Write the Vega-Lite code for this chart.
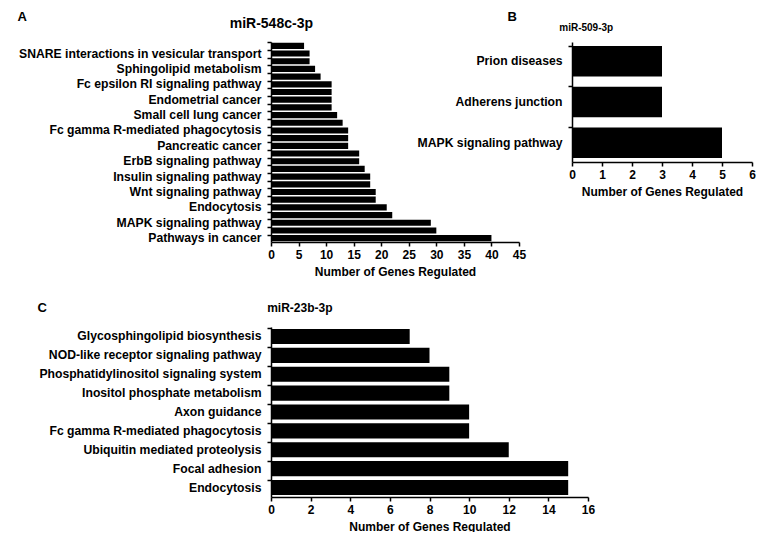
{
  "$schema": "https://vega.github.io/schema/vega-lite/v6.json",
  "background": "white",
  "padding": {"left": 17, "top": 10, "right": 0, "bottom": 0},
  "config": {
    "view": {"stroke": null},
    "font": "Liberation Sans",
    "axis": {
      "domainColor": "black", "domainWidth": 1.5, "tickColor": "black", "tickWidth": 1.5, "tickSize": 4,
      "labelFont": "Liberation Sans", "labelFontSize": 12, "labelFontWeight": "bold", "labelColor": "black",
      "titleFont": "Liberation Sans", "titleFontSize": 12, "titleFontWeight": "bold", "titleColor": "black",
      "grid": false, "labelPadding": 3, "labelFlush": false, "labelOverlap": false, "labelLimit": 400
    },
    "axisY": {"labelPadding": 6, "labelFontSize": 12.2, "bandPosition": 0, "titleAngle": 0, "titleAlign": "left", "titleBaseline": "middle", "titleFontSize": 13},
    "axisX": {"titlePadding": 6},
    "title": {"font": "Liberation Sans", "fontWeight": "bold", "color": "black", "frame": "bounds", "anchor": "middle"},
    "bar": {"color": "black"}
  },
  "datasets": {
    "A": [
      {"pathway": "Unlabeled pathway 1", "genes": 6},
      {"pathway": "SNARE interactions in vesicular transport", "genes": 7},
      {"pathway": "Unlabeled pathway 2", "genes": 7},
      {"pathway": "Sphingolipid metabolism", "genes": 8},
      {"pathway": "Unlabeled pathway 3", "genes": 9},
      {"pathway": "Fc epsilon RI signaling pathway", "genes": 11},
      {"pathway": "Unlabeled pathway 4", "genes": 11},
      {"pathway": "Endometrial cancer", "genes": 11},
      {"pathway": "Unlabeled pathway 5", "genes": 11},
      {"pathway": "Small cell lung cancer", "genes": 12},
      {"pathway": "Unlabeled pathway 6", "genes": 13},
      {"pathway": "Fc gamma R-mediated phagocytosis", "genes": 14},
      {"pathway": "Unlabeled pathway 7", "genes": 14},
      {"pathway": "Pancreatic cancer", "genes": 14},
      {"pathway": "Unlabeled pathway 8", "genes": 16},
      {"pathway": "ErbB signaling pathway", "genes": 16},
      {"pathway": "Unlabeled pathway 9", "genes": 17},
      {"pathway": "Insulin signaling pathway", "genes": 18},
      {"pathway": "Unlabeled pathway 10", "genes": 18},
      {"pathway": "Wnt signaling pathway", "genes": 19},
      {"pathway": "Unlabeled pathway 11", "genes": 19},
      {"pathway": "Endocytosis", "genes": 21},
      {"pathway": "Unlabeled pathway 12", "genes": 22},
      {"pathway": "MAPK signaling pathway", "genes": 29},
      {"pathway": "Unlabeled pathway 13", "genes": 30},
      {"pathway": "Pathways in cancer", "genes": 40}
    ],
    "B": [
      {"pathway": "Prion diseases", "genes": 3},
      {"pathway": "Adherens junction", "genes": 3},
      {"pathway": "MAPK signaling pathway", "genes": 5}
    ],
    "C": [
      {"pathway": "Glycosphingolipid biosynthesis", "genes": 7},
      {"pathway": "NOD-like receptor signaling pathway", "genes": 8},
      {"pathway": "Phosphatidylinositol signaling system", "genes": 9},
      {"pathway": "Inositol phosphate metabolism", "genes": 9},
      {"pathway": "Axon guidance", "genes": 10},
      {"pathway": "Fc gamma R-mediated phagocytosis", "genes": 10},
      {"pathway": "Ubiquitin mediated proteolysis", "genes": 12},
      {"pathway": "Focal adhesion", "genes": 15},
      {"pathway": "Endocytosis", "genes": 15}
    ]
  },
  "columns": 1,
  "align": "none",
  "spacing": 24,
  "concat": [
    {
      "bounds": "flush",
      "spacing": 53,
      "hconcat": [
        {
          "data": {"name": "A"},
          "width": 248,
          "height": 200,
          "title": {"text": "miR-548c-3p", "fontSize": 14, "offset": -21},
          "mark": {"type": "bar"},
          "encoding": {
            "y": {
              "field": "pathway", "type": "nominal", "sort": null,
              "scale": {"paddingInner": 0.2, "paddingOuter": 0.1},
              "axis": {
                "title": "A", "titleX": -254, "titleY": -26,
                "labelExpr": "indexof(datum.value, 'Unlabeled') === 0 ? '' : datum.value"
              }
            },
            "x": {
              "field": "genes", "type": "quantitative",
              "scale": {"domain": [0, 45], "nice": false},
              "axis": {"values": [0, 5, 10, 15, 20, 25, 30, 35, 40, 45], "title": "Number of Genes Regulated"}
            }
          }
        },
        {
          "data": {"name": "B"},
          "width": 180,
          "height": 120,
          "title": {"text": "miR-509-3p", "fontSize": 10, "offset": -23},
          "mark": {"type": "bar"},
          "encoding": {
            "y": {
              "field": "pathway", "type": "nominal", "sort": null,
              "scale": {"paddingInner": 0.25, "paddingOuter": 0.1},
              "axis": {"title": "B", "titleX": -65, "titleY": -26}
            },
            "x": {
              "field": "genes", "type": "quantitative",
              "scale": {"domain": [0, 6], "nice": false},
              "axis": {"values": [0, 1, 2, 3, 4, 5, 6], "title": "Number of Genes Regulated"}
            }
          }
        }
      ]
    },
    {
      "data": {"name": "C"},
      "width": 317,
      "height": 170,
      "title": {"text": "miR-23b-3p", "fontSize": 12, "offset": -14, "dx": -16},
      "mark": {"type": "bar"},
      "encoding": {
        "y": {
          "field": "pathway", "type": "nominal", "sort": null,
          "scale": {"paddingInner": 0.2, "paddingOuter": 0.1},
          "axis": {"title": "C", "titleX": -234, "titleY": -20}
        },
        "x": {
          "field": "genes", "type": "quantitative",
          "scale": {"domain": [0, 16], "nice": false},
          "axis": {"values": [0, 2, 4, 6, 8, 10, 12, 14, 16], "title": "Number of Genes Regulated"}
        }
      }
    }
  ]
}
